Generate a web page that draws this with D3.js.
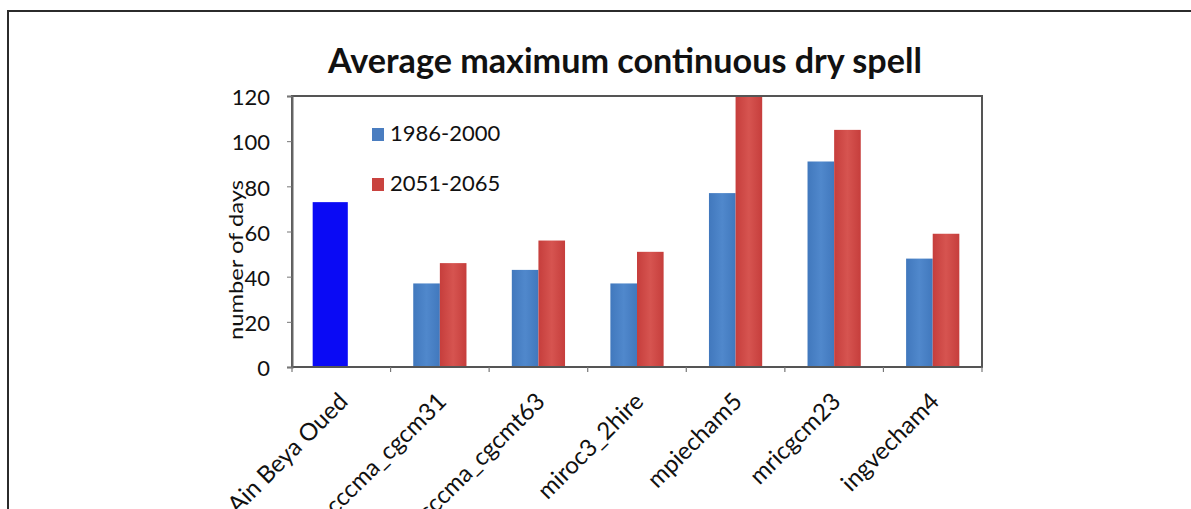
<!DOCTYPE html>
<html>
<head>
<meta charset="utf-8">
<script src="https://cdn.jsdelivr.net/npm/d3@7"></script>
<style>
  html, body { margin: 0; padding: 0; background: #fff; overflow: hidden; }
  svg { display: block; font-family: Lato, "Open Sans", sans-serif; }
</style>
</head>
<body>
<svg id="chart" width="1191" height="509"></svg>
<script>
// Chart data
const categories = ["Ain Beya Oued", "cccma_cgcm31", "cccma_cgcmt63", "miroc3_2hire", "mpiecham5", "mricgcm23", "ingvecham4"];
const seriesNames = ["1986-2000", "2051-2065"];
const observed = [73, null, null, null, null, null, null];        // station record
const baseline = [null, 37, 43, 37, 77, 91, 48];                // 1986-2000
const future   = [null, 46, 56, 51, 120, 105, 59];              // 2051-2065
const yTicks = [0, 20, 40, 60, 80, 100, 120];
const titleText = "Average maximum continuous dry spell";
const yLabel = "number of days";

const W = 1191, H = 509;
const plot = { left: 292, right: 982, top: 96, bottom: 367 };
const colors = { obs: "#0a0af5", s1: "#4a7dc0", s2: "#c9433f" };

const svg = d3.select("#chart");

// gradients giving the bars a soft vertical sheen
const defs = svg.append("defs");
function sheen(id, edge, mid) {
  const g = defs.append("linearGradient").attr("id", id).attr("x1", "0").attr("x2", "1").attr("y1", "0").attr("y2", "0");
  g.append("stop").attr("offset", "0%").attr("stop-color", edge);
  g.append("stop").attr("offset", "50%").attr("stop-color", mid);
  g.append("stop").attr("offset", "100%").attr("stop-color", edge);
}
sheen("g1", "#4178bd", "#5088cc");
sheen("g2", "#c63e3c", "#d65450");

// outer frame (top and left edges)
svg.append("path")
  .attr("d", `M8,${H} L8,11 L${W},11`)
  .attr("fill", "none").attr("stroke", "#2b2b2b").attr("stroke-width", 2);

const x0 = d3.scaleBand().domain(categories).range([plot.left, plot.right]).paddingInner(0.46).paddingOuter(0.23);
const x1 = d3.scaleBand().domain(seriesNames).range([0, x0.bandwidth()]);
const y = d3.scaleLinear().domain([0, 120]).range([plot.bottom, plot.top]);
const xStep = d3.scalePoint().domain(d3.range(categories.length + 1)).range([plot.left, plot.right]);

const clip = defs.append("clipPath").attr("id", "plotclip");
clip.append("rect").attr("x", plot.left).attr("y", plot.top).attr("width", plot.right - plot.left).attr("height", plot.bottom - plot.top);

const bars = svg.append("g").attr("clip-path", "url(#plotclip)");

// observed bar
bars.selectAll("rect.obs")
  .data(categories.map((c, i) => ({ c, v: observed[i] })).filter(d => d.v != null))
  .enter().append("rect").attr("class", "obs")
  .attr("x", d => x0(d.c) - 2)
  .attr("width", x1.bandwidth() * 1.32)
  .attr("y", d => y(d.v))
  .attr("height", d => y(0) - y(d.v))
  .attr("fill", colors.obs);

// model bars
const seriesData = [baseline, future];
seriesNames.forEach((s, si) => {
  bars.selectAll("rect.s" + si)
    .data(categories.map((c, i) => ({ c, v: seriesData[si][i] })).filter(d => d.v != null))
    .enter().append("rect").attr("class", "s" + si)
    .attr("x", d => x0(d.c) + x1(s))
    .attr("width", x1.bandwidth())
    .attr("y", d => y(d.v))
    .attr("height", d => y(0) - y(d.v))
    .attr("fill", `url(#g${si + 1})`);
});

// plot-area frame
svg.append("rect")
  .attr("x", plot.left).attr("y", plot.top)
  .attr("width", plot.right - plot.left).attr("height", plot.bottom - plot.top)
  .attr("fill", "none").attr("stroke", "#555").attr("stroke-width", 2);

// y axis
const yAxis = d3.axisLeft(y).tickValues(yTicks).tickSize(5).tickPadding(17);
const gy = svg.append("g").attr("transform", `translate(${plot.left},0)`).call(yAxis);
gy.select(".domain").attr("stroke", "#666").attr("stroke-width", 2);
gy.selectAll(".tick line").attr("stroke", "#777");
gy.selectAll(".tick text").attr("font-size", 22).attr("fill", "#111").attr("font-family", "Lato, sans-serif").attr("dy", "0.4em");

// x axis ticks at category boundaries
const gx = svg.append("g");
gx.selectAll("line").data(d3.range(categories.length + 1)).enter().append("line")
  .attr("x1", d => xStep(d)).attr("x2", d => xStep(d))
  .attr("y1", plot.bottom).attr("y2", plot.bottom + 5)
  .attr("stroke", "#777").attr("stroke-width", 1.2);

// rotated category labels
svg.append("g").selectAll("text").data(categories).enter().append("text")
  .attr("transform", d => `translate(${x0(d) + x0.bandwidth() / 2 + 8},${plot.bottom + 36}) rotate(-45)`)
  .attr("text-anchor", "end")
  .attr("font-size", 24).attr("fill", "#111")
  .text(d => d);

// y axis label
svg.append("text")
  .attr("transform", `translate(243,260) rotate(-90)`)
  .attr("text-anchor", "middle")
  .attr("font-size", 20).attr("fill", "#111")
  .attr("textLength", 160).attr("lengthAdjust", "spacingAndGlyphs")
  .text(yLabel);

// title
const title = svg.append("text")
  .attr("x", 625).attr("y", 73)
  .attr("text-anchor", "middle")
  .attr("font-size", 30).attr("font-weight", "bold").attr("fill", "#111")
  .text(titleText);
const tw = title.node().getComputedTextLength();
title.attr("font-size", 30 * 594 / tw);

// legend
const legend = svg.append("g");
const legendColors = [colors.s1, colors.s2];
seriesNames.forEach((s, i) => {
  const gy0 = 134 + i * 50;
  legend.append("rect").attr("x", 372).attr("y", gy0 - 6).attr("width", 12).attr("height", 13).attr("fill", legendColors[i]);
  legend.append("text").attr("x", 390).attr("y", gy0 + 7).attr("font-size", 22).attr("fill", "#111").text(s);
});
</script>
</body>
</html>
